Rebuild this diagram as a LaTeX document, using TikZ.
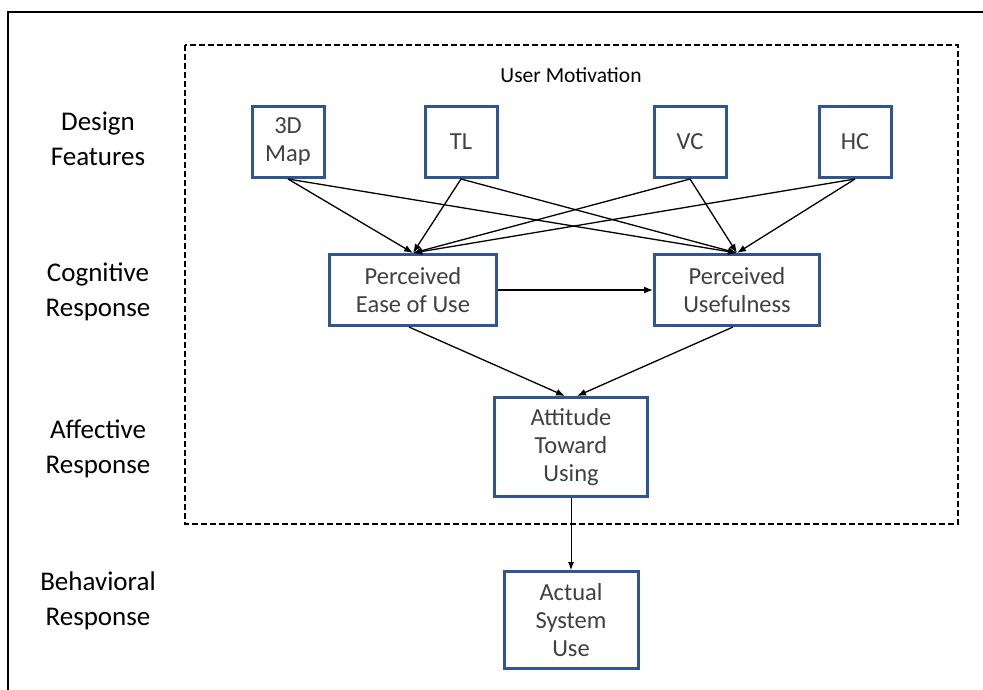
\documentclass[tikz,border=0pt]{standalone}
\usepackage{fontspec}
\setmainfont{Carlito}
\usepackage{tikz}
\usetikzlibrary{arrows.meta,positioning}
\usepackage{xcolor}
\definecolor{boxblue}{HTML}{2F5597}
\definecolor{boxtext}{HTML}{404040}

\begin{document}
\begin{tikzpicture}[
  >={Latex[length=9pt,width=7pt]}, x=1pt, y=-1pt,
  construct/.style={rectangle,draw=boxblue,line width=3pt,fill=white,
    text=boxtext,align=center,inner sep=2pt,
    font=\fontsize{24.5}{28}\selectfont},
  feature/.style={construct,minimum width=72pt,minimum height=71pt},
  stage/.style={align=center,font=\fontsize{27}{35}\selectfont},
  link/.style={->,draw=black,line width=1.3pt}]
\clip (0,0) rectangle (983,689);
\draw[line width=2pt] (8,12) rectangle (1000,700);
\draw[line width=2pt,dash pattern=on 6pt off 3pt] (185,45) rectangle (958,524);
\node[font=\fontsize{21.5}{24}\selectfont] (motiv) at (571,75) {User Motivation};
% stages
\node[stage] (sdesign) at (98,139) {Design\\Features};
\node[stage] (scog) at (98,292) {Cognitive\\Response};
\node[stage] (saff) at (98,449) {Affective\\Response};
\node[stage] (sbeh) at (98,601) {Behavioral\\Response};
% design features
\node[feature] (map) at (288,142) {3D\\Map};
\node[feature] (tl) at (461,142) {TL};
\node[feature] (vc) at (690,142) {VC};
\node[feature] (hc) at (855,142) {HC};
% constructs
\node[construct,minimum width=167pt,minimum height=71pt] (peou) at (413,290) {Perceived\\Ease of Use};
\node[construct,minimum width=165pt,minimum height=71pt] (pu) at (737,290) {Perceived\\Usefulness};
\node[construct,minimum width=153pt,minimum height=99pt] (atu) at (571,447) {Attitude\\Toward\\Using};
\node[construct,minimum width=134pt,minimum height=97pt] (asu) at (571,620) {Actual\\System\\Use};
\foreach \f in {map,tl,vc,hc}{
  \draw[link] (\f.south) -- (peou.north);
  \draw[link] (\f.south) -- (pu.north);
}
\draw[link] (peou.east) -- (pu.west);
\draw[link] ([xshift=-4pt]peou.south) -- ([xshift=-6pt]atu.north);
\draw[link] ([xshift=-4pt]pu.south) -- ([xshift=6pt]atu.north);
\draw[->,line width=0.9pt,>={Latex[length=8pt,width=6pt]}] (atu.south) -- (asu.north);
\end{tikzpicture}
\end{document}
